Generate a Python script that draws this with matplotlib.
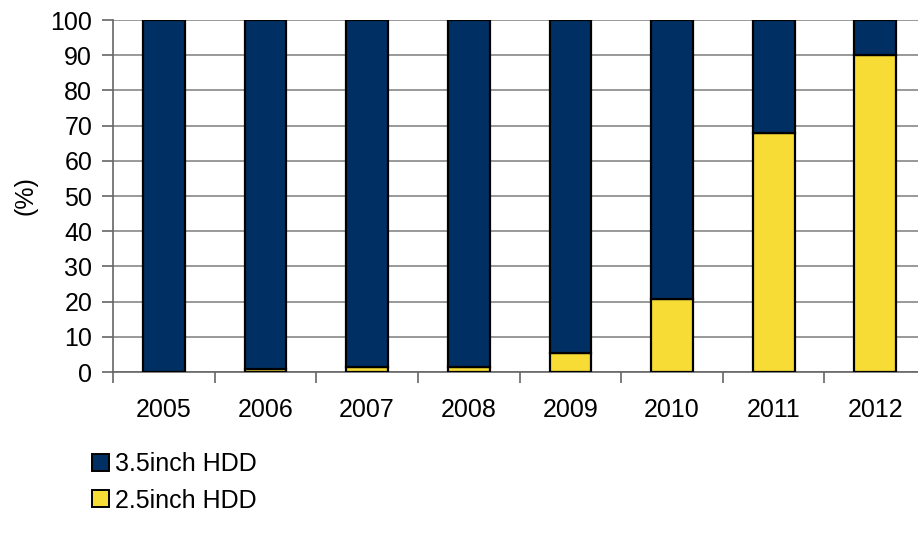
import matplotlib
matplotlib.use("Agg")
import matplotlib.pyplot as plt
from matplotlib.patches import Patch
import numpy as np

years = ["2005", "2006", "2007", "2008", "2009", "2010", "2011", "2012"]
hdd_25 = [0, 0.8, 1.3, 1.3, 5.3, 20.7, 68, 90]
hdd_35 = [100 - v for v in hdd_25]

navy = "#003063"
yellow = "#F6DC34"

plt.rcParams["font.family"] = ["Liberation Sans", "DejaVu Sans"]
fs = 18

fig = plt.figure(figsize=(9.18, 5.42), dpi=100)
ax = fig.add_axes([113 / 918, 1 - 372 / 542, (918 - 113) / 918, 352 / 542])

x = np.arange(len(years))
w = 0.41
ax.bar(x, hdd_25, w, color=yellow, edgecolor="black", linewidth=1.6, zorder=3)
ax.bar(x, hdd_35, w, bottom=hdd_25, color=navy, edgecolor="black", linewidth=1.6, zorder=3)

ax.set_ylim(0, 100)
ax.set_xlim(-0.5, 7.42)
ax.set_yticks(range(0, 101, 10))
ax.yaxis.grid(True, color="#888888", linewidth=1.2, zorder=0)

ax.set_xticks(np.arange(-0.5, 7.5, 1))
ax.set_xticklabels([])
ax.set_xticks(x, minor=True)
ax.set_xticklabels(years, minor=True)
ax.tick_params(axis="x", which="minor", length=0, pad=19, labelsize=fs)
ax.tick_params(axis="x", which="major", length=8, color="#666666", width=1.2)
ax.tick_params(axis="y", length=8, color="#666666", width=1.2, labelsize=fs, pad=7)

for s in ["top", "right"]:
    ax.spines[s].set_visible(False)
ax.spines["left"].set_color("#666666")
ax.spines["bottom"].set_color("#666666")
ax.spines["left"].set_linewidth(1.2)
ax.spines["bottom"].set_linewidth(1.2)

ax.set_ylabel("(%)", fontsize=fs, labelpad=9)

handles = [Patch(facecolor=navy, edgecolor="black", linewidth=1.4, label="3.5inch HDD"),
           Patch(facecolor=yellow, edgecolor="black", linewidth=1.4, label="2.5inch HDD")]
fig.legend(handles=handles, loc="upper left", bbox_to_anchor=(92 / 918, 1 - 452 / 542),
           frameon=False, fontsize=fs, handlelength=0.68, handleheight=0.68,
           handletextpad=0.25, labelspacing=0.5, borderpad=0, borderaxespad=0)

fig.savefig("out.png", dpi=100)
